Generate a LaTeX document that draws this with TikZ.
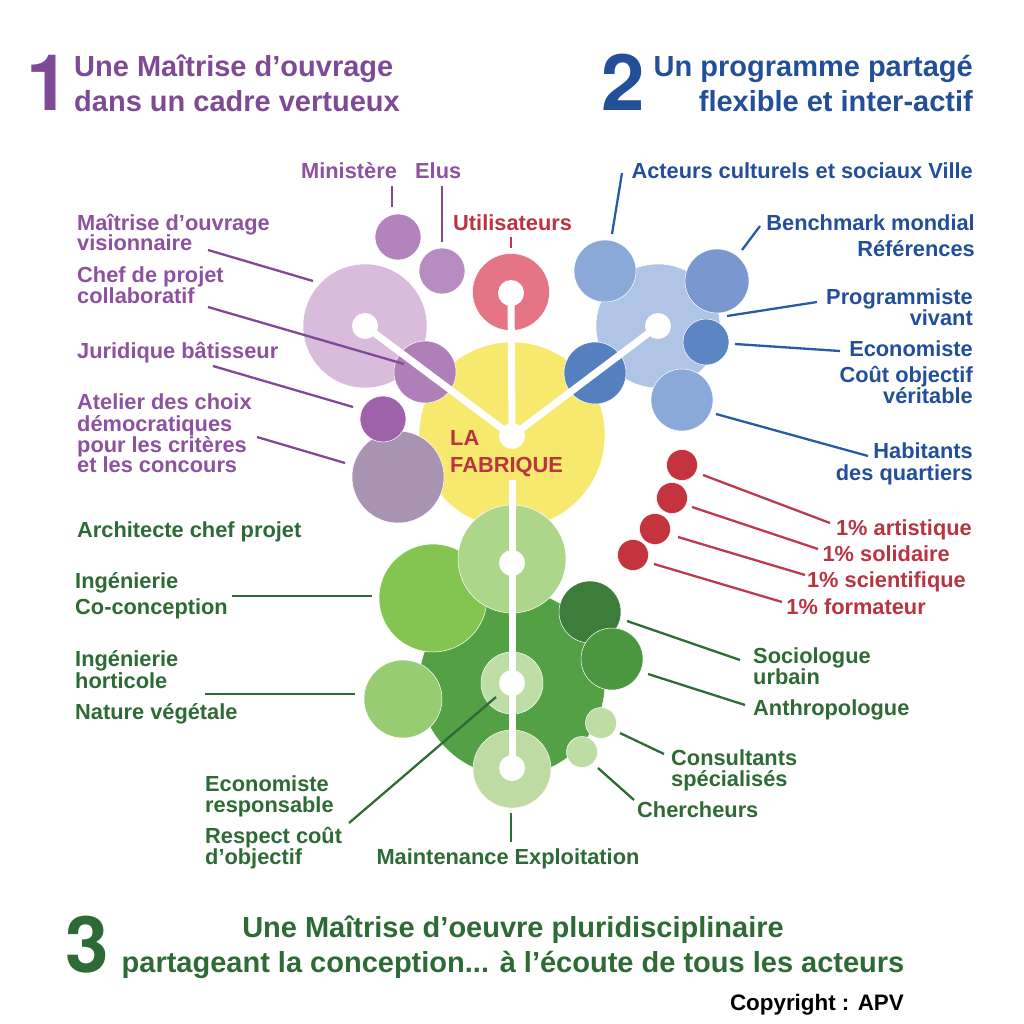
\documentclass[tikz,border=0pt]{standalone}
\usepackage{fontspec}
\setmainfont{Liberation Sans}
\newfontfamily\digitfont{TeX Gyre Heros}
\usepackage{xcolor}
\definecolor{tpurple}{HTML}{8C52A0}
\definecolor{tred}{HTML}{B93440}
\definecolor{tblue}{HTML}{234F98}
\definecolor{tgreen}{HTML}{2E6A35}
\definecolor{lpurple}{HTML}{7E4A95}
\definecolor{lblue}{HTML}{2A5AA5}
\definecolor{lred}{HTML}{BC3A4C}
\definecolor{lgreen}{HTML}{2F6B37}
\tikzset{
    disc/.style={circle, inner sep=0pt, outer sep=0pt, draw=white, line width=0.5pt},
    hole/.style={circle, fill=white, inner sep=0pt, minimum size=26},
    spoke/.style={white, line width=7pt},
    txt/.style={inner sep=0pt, font=\bfseries\fontsize{21.8}{21.8}\selectfont},
    ttl/.style={inner sep=0pt, font=\bfseries\fontsize{29}{29}\selectfont},
    big/.style={inner sep=0pt, font=\digitfont\bfseries\fontsize{78}{78}\selectfont},
    lnk/.style={line width=2.3pt}
}
\begin{document}
\begin{tikzpicture}[x=1pt, y=-1pt]
    \useasboundingbox (0,0) rectangle (1024,1024);

    % Titles
    \node at (26,111) (one) [big, anchor=base west, text=lpurple] {1};
    \node at (74,77) (ttlA) [ttl, anchor=base west, text=lpurple] {Une Maîtrise d’ouvrage};
    \node at (74,112) (ttlB) [ttl, anchor=base west, text=lpurple] {dans un cadre vertueux};
    \node at (601,111) (two) [big, anchor=base west, text=tblue] {2};
    \node at (973,77) (ttlC) [ttl, anchor=base east, text=tblue] {Un programme partagé};
    \node at (973,112) (ttlD) [ttl, anchor=base east, text=tblue] {flexible et inter-actif};
    \node at (65,972) (three) [big, anchor=base west, text=tgreen] {3};
    \node at (513,937) (ttlE) [ttl, anchor=base, text=tgreen] {Une Maîtrise d’oeuvre pluridisciplinaire};
    \node at (513,972) (ttlF) [ttl, anchor=base, text=tgreen] {partageant la conception... à l’écoute de tous les acteurs};
    \node at (904,1010) (copy) [txt, font=\bfseries\fontsize{22.4}{22.4}\selectfont, anchor=base east, text=black] {Copyright : APV};

    % Green discs
    \node at (512,683) (gBig) [disc, fill={rgb,255:red,84;green,160;blue,69}, minimum size=186] {};
    \node at (433,598) (gBright) [disc, fill={rgb,255:red,132;green,197;blue,82}, minimum size=108] {};
    \node at (403,699) (gLeft) [disc, fill={rgb,255:red,151;green,204;blue,115}, minimum size=78] {};
    \node at (590,612) (gDark) [disc, fill={rgb,255:red,60;green,125;blue,59}, minimum size=62] {};
    \node at (612,659) (gMid) [disc, fill={rgb,255:red,74;green,151;blue,63}, minimum size=62] {};
    \node at (601,723) (gSmallA) [disc, fill={rgb,255:red,190;green,221;blue,165}, minimum size=31] {};
    \node at (582,752) (gSmallB) [disc, fill={rgb,255:red,190;green,221;blue,165}, minimum size=31] {};

    % Yellow disc and what lies on it
    \node at (512,435) (fab) [disc, fill={rgb,255:red,247;green,233;blue,110}, minimum size=186] {};
    \node at (512,559) (gTop) [disc, fill={rgb,255:red,173;green,214;blue,138}, minimum size=108] {};
    \node at (512,683) (gInner) [disc, fill={rgb,255:red,191;green,221;blue,167}, minimum size=62] {};
    \node at (512,769) (gLow) [disc, fill={rgb,255:red,189;green,219;blue,163}, minimum size=78] {};
    \node at (511,292) (uti) [disc, fill={rgb,255:red,229;green,117;blue,133}, minimum size=77] {};

    % Purple discs
    \node at (365,326) (pBig) [disc, fill={rgb,255:red,217;green,187;blue,219}, minimum size=124] {};
    \node at (398,237) (pMin) [disc, fill={rgb,255:red,178;green,131;blue,188}, minimum size=46] {};
    \node at (442,271) (pElu) [disc, fill={rgb,255:red,183;green,140;blue,192}, minimum size=46] {};
    \node at (425,372) (pMid) [disc, fill={rgb,255:red,176;green,127;blue,185}, minimum size=62] {};
    \node at (398,477) (pGrey) [disc, fill={rgb,255:red,168;green,147;blue,179}, minimum size=92] {};
    \node at (383,419) (pDark) [disc, fill={rgb,255:red,158;green,98;blue,171}, minimum size=46] {};

    % Blue discs
    \node at (658,326) (bBig) [disc, fill={rgb,255:red,176;green,197;blue,230}, minimum size=124] {};
    \node at (605,271) (bAct) [disc, fill={rgb,255:red,138;green,169;blue,217}, minimum size=62] {};
    \node at (717,281) (bBen) [disc, fill={rgb,255:red,122;green,151;blue,207}, minimum size=64] {};
    \node at (706,342) (bPro) [disc, fill={rgb,255:red,92;green,133;blue,196}, minimum size=46] {};
    \node at (595,373) (bDark) [disc, fill={rgb,255:red,85;green,128;blue,191}, minimum size=62] {};
    \node at (682,400) (bHab) [disc, fill={rgb,255:red,138;green,169;blue,217}, minimum size=62] {};

    % Red discs
    \node at (682,465) (rA) [disc, fill={rgb,255:red,196;green,52;blue,63}, minimum size=31] {};
    \node at (672,498) (rB) [disc, fill={rgb,255:red,196;green,52;blue,63}, minimum size=31] {};
    \node at (655,529) (rC) [disc, fill={rgb,255:red,196;green,52;blue,63}, minimum size=31] {};
    \node at (633,555) (rD) [disc, fill={rgb,255:red,196;green,52;blue,63}, minimum size=31] {};

    % White spokes and hubs
    \coordinate (gapEnd) at (512,480);
    \node at (512,436) (hub) [hole] {};
    \node at (365,326) (hP) [hole] {};
    \node at (658,326) (hB) [hole] {};
    \node at (511,293) (hU) [hole] {};
    \node at (512,563) (hT) [hole] {};
    \node at (512,683) (hI) [hole] {};
    \node at (512,768) (hL) [hole] {};
    \draw[spoke] (hub.center) -- (hP.center);
    \draw[spoke] (hub.center) -- (hB.center);
    \draw[spoke] (hub.center) -- (hU.center);
    \draw[spoke] (gapEnd) -- (hL.center);

    % Purple labels
    \node at (301,179) (tMin) [txt, anchor=base west, text=tpurple] {Ministère};
    \node at (415,179) (tElu) [txt, anchor=base west, text=tpurple] {Elus};
    \node at (77,230) (tMoA) [txt, anchor=base west, text=tpurple] {Maîtrise d’ouvrage};
    \node at (77,251) (tMoB) [txt, anchor=base west, text=tpurple] {visionnaire};
    \node at (77,282) (tChA) [txt, anchor=base west, text=tpurple] {Chef de projet};
    \node at (77,303) (tChB) [txt, anchor=base west, text=tpurple] {collaboratif};
    \node at (77,358) (tJur) [txt, anchor=base west, text=tpurple] {Juridique bâtisseur};
    \node at (77,409) (tAtA) [txt, anchor=base west, text=tpurple] {Atelier des choix};
    \node at (77,431) (tAtB) [txt, anchor=base west, text=tpurple] {démocratiques};
    \node at (77,452) (tAtC) [txt, anchor=base west, text=tpurple] {pour les critères};
    \node at (77,472) (tAtD) [txt, anchor=base west, text=tpurple] {et les concours};

    % Red labels
    \node at (453,230) (tUti) [txt, anchor=base west, text=tred] {Utilisateurs};
    \node at (450,445) (tLa) [txt, anchor=base west, text=tred] {LA};
    \node at (450,472) (tFab) [txt, anchor=base west, text=tred] {FABRIQUE};
    \node at (972,535) (tArt) [txt, anchor=base east, text=tred] {1\% artistique};
    \node at (950,561) (tSol) [txt, anchor=base east, text=tred] {1\% solidaire};
    \node at (966,587) (tSci) [txt, anchor=base east, text=tred] {1\% scientifique};
    \node at (926,614) (tFor) [txt, anchor=base east, text=tred] {1\% formateur};

    % Blue labels
    \node at (973,179) (tAct) [txt, anchor=base east, text=tblue] {Acteurs culturels et sociaux Ville};
    \node at (975,230) (tBen) [txt, anchor=base east, text=tblue] {Benchmark mondial};
    \node at (975,256) (tRef) [txt, anchor=base east, text=tblue] {Références};
    \node at (973,304) (tPrA) [txt, anchor=base east, text=tblue] {Programmiste};
    \node at (973,325) (tPrB) [txt, anchor=base east, text=tblue] {vivant};
    \node at (973,356) (tEco) [txt, anchor=base east, text=tblue] {Economiste};
    \node at (973,382) (tCoA) [txt, anchor=base east, text=tblue] {Coût objectif};
    \node at (973,403) (tCoB) [txt, anchor=base east, text=tblue] {véritable};
    \node at (973,458) (tHaA) [txt, anchor=base east, text=tblue] {Habitants};
    \node at (973,480) (tHaB) [txt, anchor=base east, text=tblue] {des quartiers};

    % Green labels
    \node at (77,537) (tArc) [txt, anchor=base west, text=tgreen] {Architecte chef projet};
    \node at (75,588) (tIng) [txt, anchor=base west, text=tgreen] {Ingénierie};
    \node at (75,614) (tCoc) [txt, anchor=base west, text=tgreen] {Co-conception};
    \node at (75,666) (tHoA) [txt, anchor=base west, text=tgreen] {Ingénierie};
    \node at (75,688) (tHoB) [txt, anchor=base west, text=tgreen] {horticole};
    \node at (75,719) (tNat) [txt, anchor=base west, text=tgreen] {Nature végétale};
    \node at (205,791) (tEcA) [txt, anchor=base west, text=tgreen] {Economiste};
    \node at (205,812) (tEcB) [txt, anchor=base west, text=tgreen] {responsable};
    \node at (205,843) (tReA) [txt, anchor=base west, text=tgreen] {Respect coût};
    \node at (205,864) (tReB) [txt, anchor=base west, text=tgreen] {d’objectif};
    \node at (508,864) (tMai) [txt, anchor=base, text=tgreen] {Maintenance Exploitation};
    \node at (637,817) (tChe) [txt, anchor=base west, text=tgreen] {Chercheurs};
    \node at (671,765) (tCsA) [txt, anchor=base west, text=tgreen] {Consultants};
    \node at (671,786) (tCsB) [txt, anchor=base west, text=tgreen] {spécialisés};
    \node at (753,715) (tAnt) [txt, anchor=base west, text=tgreen] {Anthropologue};
    \node at (753,663) (tSoA) [txt, anchor=base west, text=tgreen] {Sociologue};
    \node at (753,684) (tSoB) [txt, anchor=base west, text=tgreen] {urbain};

    % Free ends of the connectors
    \coordinate (a1) at (392,186);   \coordinate (a2) at (392,207);
    \coordinate (b1) at (442,186);   \coordinate (b2) at (442,242);
    \coordinate (c1) at (208,250);   \coordinate (c2) at (313,281);
    \coordinate (d1) at (208,307);   \coordinate (d2) at (404,364);
    \coordinate (e1) at (213,366);   \coordinate (e2) at (353,407);
    \coordinate (f1) at (257,437);   \coordinate (f2) at (345,463);
    \coordinate (g1) at (511,237);   \coordinate (g2) at (511,248);
    \coordinate (h1) at (622,173);   \coordinate (h2) at (612,234);
    \coordinate (i1) at (760,226);   \coordinate (i2) at (742,250);
    \coordinate (j1) at (817,302);   \coordinate (j2) at (727,316);
    \coordinate (k1) at (840,351);   \coordinate (k2) at (735,344);
    \coordinate (l1) at (868,456);   \coordinate (l2) at (716,414);
    \coordinate (m1) at (830,523);   \coordinate (m2) at (703,475);
    \coordinate (n1) at (818,549);   \coordinate (n2) at (692,507);
    \coordinate (o1) at (805,575);   \coordinate (o2) at (678,537);
    \coordinate (p1) at (782,602);   \coordinate (p2) at (654,564);
    \coordinate (q1) at (232,596);   \coordinate (q2) at (372,596);
    \coordinate (r1) at (205,694);   \coordinate (r2) at (355,694);
    \coordinate (s1) at (740,660);   \coordinate (s2) at (627,621);
    \coordinate (t1) at (745,705);   \coordinate (t2) at (648,674);
    \coordinate (u1) at (664,754);   \coordinate (u2) at (620,733);
    \coordinate (v1) at (634,800);   \coordinate (v2) at (598,768);
    \coordinate (w1) at (511,842);   \coordinate (w2) at (511,813);
    \coordinate (y1) at (349,823);   \coordinate (y2) at (496,697);

    % Connectors
    \draw[lnk, lpurple] (a1) -- (a2);
    \draw[lnk, lpurple] (b1) -- (b2);
    \draw[lnk, lpurple] (c1) -- (c2);
    \draw[lnk, lpurple] (d1) -- (d2);
    \draw[lnk, lpurple] (e1) -- (e2);
    \draw[lnk, lpurple] (f1) -- (f2);
    \draw[lnk, lred] (g1) -- (g2);
    \draw[lnk, lblue] (h1) -- (h2);
    \draw[lnk, lblue] (i1) -- (i2);
    \draw[lnk, lblue] (j1) -- (j2);
    \draw[lnk, lblue] (k1) -- (k2);
    \draw[lnk, lblue] (l1) -- (l2);
    \draw[lnk, lred] (m1) -- (m2);
    \draw[lnk, lred] (n1) -- (n2);
    \draw[lnk, lred] (o1) -- (o2);
    \draw[lnk, lred] (p1) -- (p2);
    \draw[lnk, lgreen] (q1) -- (q2);
    \draw[lnk, lgreen] (r1) -- (r2);
    \draw[lnk, lgreen] (s1) -- (s2);
    \draw[lnk, lgreen] (t1) -- (t2);
    \draw[lnk, lgreen] (u1) -- (u2);
    \draw[lnk, lgreen] (v1) -- (v2);
    \draw[lnk, lgreen] (w1) -- (w2);
    \draw[lnk, lgreen] (y1) -- (y2);
\end{tikzpicture}
\end{document}
